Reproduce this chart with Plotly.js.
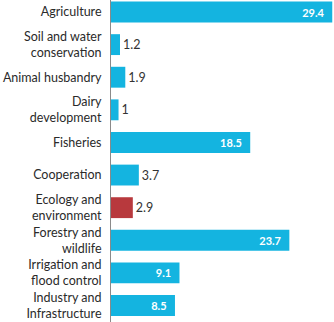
<!DOCTYPE html>
<html>
<head>
<meta charset="utf-8">
<script src="https://cdn.plot.ly/plotly-3.0.1.min.js"></script>
<style>html,body{margin:0;padding:0;background:#fff;}#chart{width:334px;height:322px;}</style>
</head>
<body>
<div id="chart"></div>
<script>
const categories = [
  "Agriculture",
  "Soil and water<br>conservation",
  "Animal husbandry",
  "Dairy<br>development",
  "Fisheries",
  "Cooperation",
  "Ecology and<br>environment",
  "Forestry and<br>wildlife",
  "Irrigation and<br>flood control",
  "Industry and<br>Infrastructure"
];
const values = [29.4, 1.2, 1.9, 1, 18.5, 3.7, 2.9, 23.7, 9.1, 8.5];
const highlighted = "Ecology and<br>environment";

const blue = "#14b4e0";
const red = "#b8393d";

const trace = {
  type: "bar",
  orientation: "h",
  y: categories,
  x: values,
  width: 0.64,
  marker: { color: categories.map(c => c === highlighted ? red : blue) },
  text: values.map(v => v > 5 ? v + "\u00a0\u00a0" : String(v)),
  texttemplate: "%{text}",
  textposition: values.map(v => v > 5 ? "inside" : "outside"),
  insidetextanchor: "end",
  insidetextfont: { family: "Lato", size: 11, color: "#ffffff", weight: "bold" },
  outsidetextfont: { family: "Lato", size: 12.5, color: "#333333" },
  cliponaxis: false,
  hoverinfo: "none"
};

const layout = {
  width: 334,
  height: 322,
  margin: { l: 111, r: 1, t: 0, b: 0 },
  paper_bgcolor: "#ffffff",
  plot_bgcolor: "#ffffff",
  showlegend: false,
  bargap: 0.36,
  xaxis: { range: [0, 29.5], visible: false, fixedrange: true },
  yaxis: {
    type: "category",
    range: [9.506, -0.368],
    showline: true,
    linecolor: "#8a8a8a",
    linewidth: 1,
    showgrid: false,
    zeroline: false,
    ticks: "outside",
    ticklen: 6,
    tickcolor: "rgba(0,0,0,0)",
    tickfont: { family: "Lato", size: 12.5, color: "#2a2a2a" },
    fixedrange: true
  }
};

Plotly.newPlot("chart", [trace], layout, { staticPlot: true, displayModeBar: false });
</script>
</body>
</html>
